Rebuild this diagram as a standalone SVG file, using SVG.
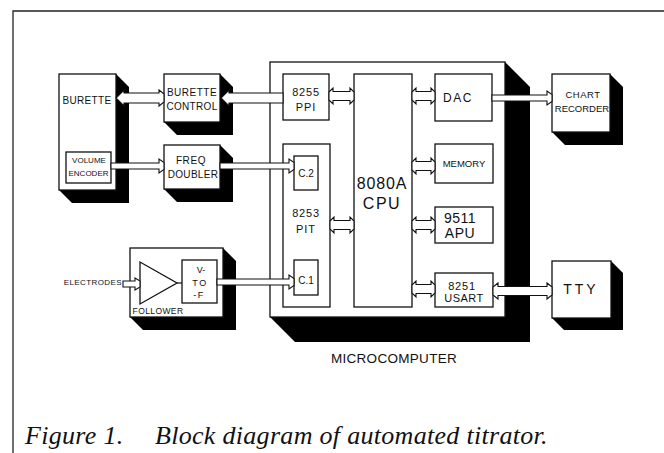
<svg xmlns="http://www.w3.org/2000/svg" width="664" height="453" viewBox="0 0 664 453">
<style>
.frame{stroke:#222;stroke-width:1.3;fill:none}
.box{fill:#fff;stroke:#111;stroke-width:1.3}
.sh{fill:#000}
.ln{fill:none;stroke:#111;stroke-width:1.2}
.bus{fill:#fff;stroke:#111;stroke-width:1.1;stroke-linejoin:miter}
text{font-family:"Liberation Sans",Arial,sans-serif;fill:#111;text-anchor:middle}
.cap{font-family:"Liberation Serif","Times New Roman",serif;font-style:italic;font-size:26px;letter-spacing:0.3px;text-anchor:start}
</style>
<rect width="664" height="453" fill="#fff"/>
<path class="frame" d="M13,453 V11 H664"/>

<g id="microcomputer">
<polygon class="sh" points="505,62 530,87 530,342 295,342 270,317"/>
<rect class="box" x="270" y="62" width="235" height="255"/>
<text x="394" y="363" font-size="13.5" letter-spacing="0.3">MICROCOMPUTER</text>
</g>

<g id="burette">
<polygon class="sh" points="116,74 129,87 129,203 72,203 59,190"/>
<rect class="box" x="59" y="74" width="57" height="116"/>
<text x="87" y="103.5" font-size="10" letter-spacing="0.3">BURETTE</text>
</g>
<g id="volume-encoder">
<rect class="box" x="66" y="152" width="45" height="31"/>
<text x="89" y="163" font-size="8">VOLUME</text>
<text x="88.5" y="176" font-size="8">ENCODER</text>
</g>
<g id="burette-control">
<polygon class="sh" points="220,74 233,87 233,135 177,135 164,122"/>
<rect class="box" x="164" y="74" width="56" height="48"/>
<text x="192" y="95.5" font-size="10" letter-spacing="0.5">BURETTE</text>
<text x="192" y="109.5" font-size="10" letter-spacing="0.3">CONTROL</text>
</g>
<g id="freq-doubler">
<polygon class="sh" points="220,145 233,158 233,202 177,202 164,189"/>
<rect class="box" x="164" y="145" width="56" height="44"/>
<text x="191" y="163.5" font-size="10" letter-spacing="0.6">FREQ</text>
<text x="193" y="177.5" font-size="10" letter-spacing="0.3">DOUBLER</text>
</g>
<g id="follower">
<polygon class="sh" points="223,248 236,261 236,330 143,330 130,317"/>
<rect class="box" x="130" y="248" width="93" height="69"/>
<polygon class="box" points="140,262 140,304 177,283"/>
<line class="ln" x1="177" y1="283" x2="182" y2="283"/>
<text x="158" y="314" font-size="8.5" letter-spacing="0.4">FOLLOWER</text>
</g>
<g id="v-to-f">
<rect class="box" x="182" y="260" width="35" height="43"/>
<text x="201" y="273" font-size="9">V-</text>
<text x="200" y="285.5" font-size="9" letter-spacing="1.5">TO</text>
<text x="199" y="297.5" font-size="9" letter-spacing="1.5">-F</text>
</g>
<g id="electrodes">
<text x="122" y="285" font-size="8" letter-spacing="0.4" style="text-anchor:end">ELECTRODES</text>
</g>

<g id="ppi">
<rect class="box" x="283" y="74" width="46" height="46"/>
<text x="306" y="96" font-size="11" letter-spacing="0.8">8255</text>
<text x="306" y="111" font-size="11" letter-spacing="1">PPI</text>
</g>
<g id="pit">
<rect class="box" x="283" y="144" width="47" height="163"/>
<text x="306" y="217" font-size="11" letter-spacing="0.8">8253</text>
<text x="306" y="233" font-size="11" letter-spacing="1">PIT</text>
</g>
<g id="c2">
<rect class="box" x="294" y="156" width="24" height="34"/>
<text x="306" y="177" font-size="10">C.2</text>
</g>
<g id="c1">
<rect class="box" x="294" y="260" width="24" height="35"/>
<text x="306" y="284" font-size="10">C.1</text>
</g>
<g id="cpu">
<rect class="box" x="354" y="74" width="58" height="233"/>
<text x="382" y="189" font-size="16" letter-spacing="0.8">8080A</text>
<text x="382" y="209" font-size="16" letter-spacing="1.5">CPU</text>
</g>
<g id="dac">
<rect class="box" x="435" y="74" width="57" height="47"/>
<text x="458" y="102" font-size="12" letter-spacing="1.5">DAC</text>
</g>
<g id="memory">
<rect class="box" x="435" y="144" width="58" height="39"/>
<text x="464" y="166.5" font-size="9.5">MEMORY</text>
</g>
<g id="apu">
<rect class="box" x="435" y="207" width="58" height="36"/>
<text x="460" y="223" font-size="14" letter-spacing="0.5">9511</text>
<text x="460" y="238" font-size="14" letter-spacing="0.5">APU</text>
</g>
<g id="usart">
<rect class="box" x="435" y="273" width="58" height="34"/>
<text x="462" y="290" font-size="11" letter-spacing="0.8">8251</text>
<text x="464" y="302" font-size="11" letter-spacing="0.5">USART</text>
</g>
<g id="chart-recorder">
<polygon class="sh" points="610,74 623,87 623,145 565,145 552,132"/>
<rect class="box" x="552" y="74" width="58" height="58"/>
<text x="583" y="97.5" font-size="9.5" letter-spacing="0.5">CHART</text>
<text x="582" y="111.5" font-size="9.5">RECORDER</text>
</g>
<g id="tty">
<polygon class="sh" points="611,261 623,273 623,330 564,330 552,318"/>
<rect class="box" x="552" y="261" width="59" height="57"/>
<text x="581" y="294" font-size="14" letter-spacing="3">TTY</text>
</g>

<g id="connectors">
<path class="bus" d="M116,98 L124,90 L124,93 L159,93 L159,90 L164,94 L164,102 L159,106 L159,103 L124,103 L124,106 Z"/>
<path class="bus" d="M221,98 L229,90 L229,93 L283,93 L283,103 L229,103 L229,106 Z"/>
<path class="bus" d="M111,163 L159,163 L159,159 L164,162.5 L164,169.5 L159,173 L159,169 L111,169 Z"/>
<path class="bus" d="M220,163 L289,163 L289,159 L294,162.5 L294,169.5 L289,173 L289,169 L220,169 Z"/>
<path class="bus" d="M217,279 L289,279 L289,275 L294,278.5 L294,285.5 L289,289 L289,285 L217,285 Z"/>
<path class="bus" d="M123,281 L135,281 L135,278 L140,281 L140,287 L135,290 L135,287 L123,287 Z"/>
<path class="bus" d="M492,95 L547,95 L547,91 L552,94.5 L552,101.5 L547,105 L547,101 L492,101 Z"/>
<path class="bus" d="M493,287 L498,283 L498,286.5 L547,286.5 L547,283 L552,287 L552,295 L547,299 L547,295.5 L498,295.5 L498,299 L493,295 Z"/>
<path class="bus" d="M329,92 L333,88 L333,91.5 L350,91.5 L350,88 L354,92 L354,100 L350,104 L350,100.5 L333,100.5 L333,104 L329,100 Z"/>
<path class="bus" d="M330,221 L334,217 L334,220.5 L350,220.5 L350,217 L354,221 L354,229 L350,233 L350,229.5 L334,229.5 L334,233 L330,229 Z"/>
<path class="bus" d="M412,92 L416,88 L416,91.5 L431,91.5 L431,88 L435,92 L435,100 L431,104 L431,100.5 L416,100.5 L416,104 L412,100 Z"/>
<path class="bus" d="M412,162 L416,158 L416,161.5 L431,161.5 L431,158 L435,162 L435,170 L431,174 L431,170.5 L416,170.5 L416,174 L412,170 Z"/>
<path class="bus" d="M412,221 L416,217 L416,220.5 L431,220.5 L431,217 L435,221 L435,229 L431,233 L431,229.5 L416,229.5 L416,233 L412,229 Z"/>
<path class="bus" d="M412,285 L416,281 L416,284.5 L431,284.5 L431,281 L435,285 L435,293 L431,297 L431,293.5 L416,293.5 L416,297 L412,293 Z"/>
</g>

<text class="cap" x="25" y="444">Figure 1.</text>
<text class="cap" x="155" y="444">Block diagram of automated titrator.</text>
</svg>
